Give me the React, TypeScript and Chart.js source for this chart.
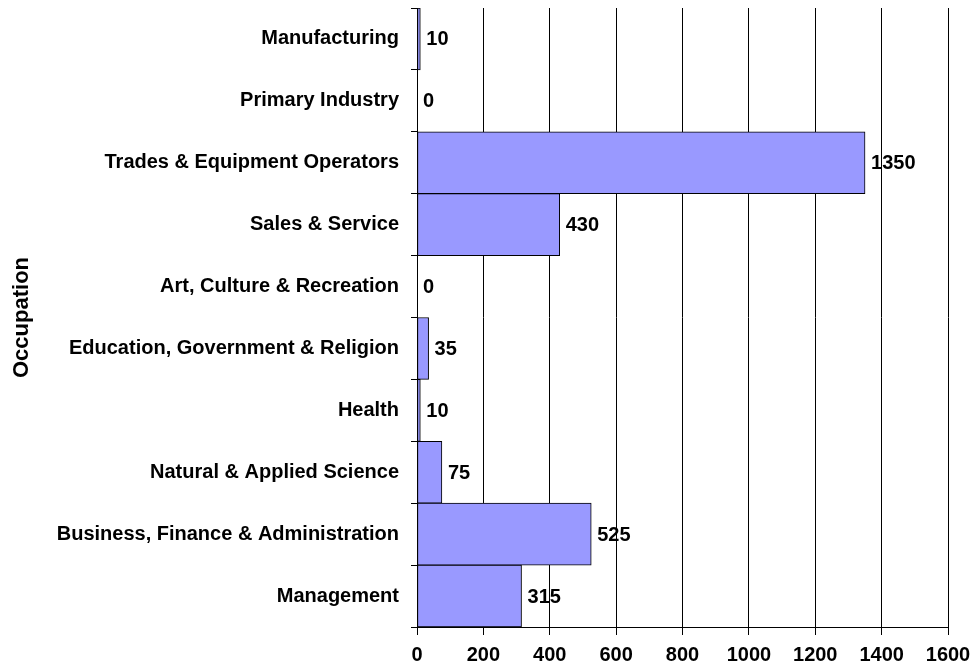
import React, { useEffect, useRef } from "react";
import { Chart, registerables } from "chart.js";

Chart.register(...registerables);

const categories = [
  "Manufacturing",
  "Primary Industry",
  "Trades & Equipment Operators",
  "Sales & Service",
  "Art, Culture & Recreation",
  "Education, Government & Religion",
  "Health",
  "Natural & Applied Science",
  "Business, Finance & Administration",
  "Management",
];
const values = [10, 0, 1350, 430, 0, 35, 10, 75, 525, 315];
const xTicks = [0, 200, 400, 600, 800, 1000, 1200, 1400, 1600];
const yTitle = "Occupation";

const FONT = "'Liberation Sans', Arial, sans-serif";

const valueLabels = {
  id: "valueLabels",
  afterDatasetsDraw(chart: any) {
    const ctx = chart.ctx;
    const meta = chart.getDatasetMeta(0);
    const xs = chart.scales.x;
    ctx.save();
    ctx.font = `bold 20px ${FONT}`;
    ctx.fillStyle = "#000";
    ctx.textAlign = "left";
    ctx.textBaseline = "middle";
    meta.data.forEach((el: any, i: number) => {
      const v = values[i];
      const x = xs.getPixelForValue(v);
      ctx.fillText(String(v), x + 6, el.y + 1);
    });
    ctx.restore();
  },
};

export default function App() {
  const ref = useRef<HTMLCanvasElement | null>(null);
  useEffect(() => {
    if (!ref.current) return;
    const chart = new Chart(ref.current, {
      type: "bar",
      data: {
        labels: categories,
        datasets: [
          {
            data: values,
            backgroundColor: "#9999FF",
            borderColor: "#000",
            borderWidth: 1,
            borderSkipped: false,
            barPercentage: 1,
            categoryPercentage: 1,
          },
        ],
      },
      options: {
        indexAxis: "y",
        animation: false,
        responsive: true,
        maintainAspectRatio: false,
        layout: { padding: { left: 4, right: 25, top: 8, bottom: 0 } },
        plugins: {
          legend: { display: false },
          tooltip: { enabled: false },
          title: { display: false },
        },
        scales: {
          x: {
            type: "linear",
            min: 0,
            max: 1600,
            afterBuildTicks(scale: any) {
              scale.ticks = xTicks.map((v) => ({ value: v }));
            },
            afterFit(scale: any) {
              scale.height = 40;
              scale.paddingLeft = 0;
              scale.paddingRight = 0;
            },
            grid: {
              color: "#000",
              lineWidth: 1,
              drawTicks: true,
              tickLength: 8,
            },
            border: { display: true, color: "#000" },
            ticks: {
              color: "#000",
              font: { family: FONT, size: 20, weight: "bold" },
              padding: 8,
              maxRotation: 0,
              callback: (v: any) => String(v),
            },
          },
          y: {
            type: "category",
            afterFit(scale: any) {
              scale.width = 413;
              scale.paddingTop = 0;
              scale.paddingBottom = 0;
            },
            grid: {
              display: true,
              offset: true,
              drawOnChartArea: false,
              drawTicks: true,
              tickLength: 6,
              color: "#000",
            },
            border: { display: true, color: "#000" },
            ticks: {
              color: "#000",
              font: { family: FONT, size: 20, weight: "bold" },
              padding: 12,
            },
            title: {
              display: true,
              text: yTitle,
              color: "#000",
              font: { family: FONT, size: 22, weight: "bold" },
              padding: { top: 5, bottom: 0 },
            },
          },
        },
      },
      plugins: [valueLabels],
    });
    return () => chart.destroy();
  }, []);
  return (
    <div style={{ position: "absolute", left: 0, top: 0, width: 973, height: 667 }}>
      <canvas ref={ref} />
    </div>
  );
}
